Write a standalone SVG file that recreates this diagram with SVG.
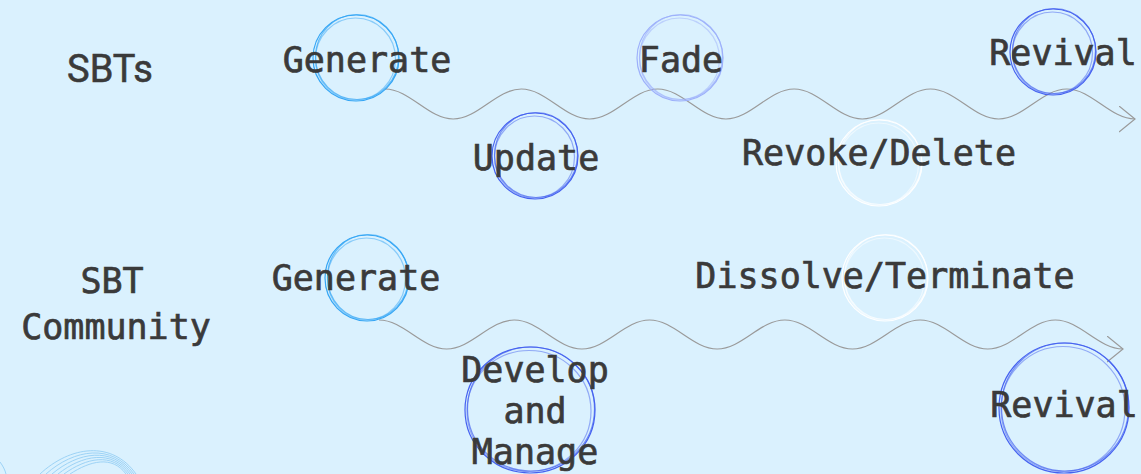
<svg xmlns="http://www.w3.org/2000/svg" xmlns:xlink="http://www.w3.org/1999/xlink" width="1141" height="474" viewBox="0 0 1141 474">
<style>
.bg{fill:#daf1fe}
.t{font-family:"DejaVu Sans Mono","Liberation Mono",monospace;font-size:35px;fill:#3a3a3a;stroke:#3a3a3a;stroke-width:0.7px;text-anchor:middle}
.ts{font-family:Roboto,"Liberation Sans",sans-serif;font-size:38px;fill:#3a3a3a;stroke:#3a3a3a;stroke-width:0.6px;text-anchor:middle}
.r{fill:none;stroke-width:1.2}
.sky{stroke:#35a6f5}
.blue{stroke:#4662f0}
.lav{stroke:#9db0fb}
.wht{stroke:#ffffff}
.wave{fill:none;stroke:#9a9a9a;stroke-width:1.2}
.deco{fill:none;stroke:#9dd3f6;stroke-width:1}
</style>
<defs>
<marker id="chev" markerUnits="userSpaceOnUse" markerWidth="20" markerHeight="30" refX="16" refY="13" orient="auto">
<path d="M0,0 L16,13 L0,26" fill="none" stroke="#9a9a9a" stroke-width="1.2"/>
</marker>
</defs>
<rect class="bg" x="0" y="0" width="1141" height="474"/>

<g id="decoration">
<path class="deco" d="M40,474 C70,446 112,440 136,474"/>
<path class="deco" d="M46,474 C74,449 112,443 134,474"/>
<path class="deco" d="M52,474 C78,452 112,446 132,474"/>
<path class="deco" d="M58,474 C82,455 112,449 130,474"/>
<path class="deco" d="M64,474 C86,458 112,452 128,474"/>
<path class="deco" d="M70,474 C90,461 112,455 126,474"/>
<path class="deco" d="M0,462 C3,466 5,470 6,474"/>
</g>

<g id="connectors">
<path class="wave" marker-end="url(#chev)" d="M385,89 C409.82,89 428.36,119 453.18,119 S496.54,89 521.36,89 S564.73,119 589.55,119 S632.91,89 657.73,89 S701.09,119 725.91,119 S769.27,89 794.09,89 S837.45,119 862.27,119 S905.63,89 930.45,89 S973.82,119 998.64,119 S1042,89 1066.82,89 S1110.18,119 1135,119"/>
<path class="wave" marker-end="url(#chev)" d="M379,320 C403.62,320 422.02,349 446.64,349 S489.65,320 514.27,320 S557.29,349 581.91,349 S624.93,320 649.55,320 S692.56,349 717.18,349 S760.2,320 784.82,320 S827.83,349 852.45,349 S895.47,320 920.09,320 S963.11,349 987.73,349 S1030.74,320 1055.36,320 S1098.38,349 1123,349"/>
</g>

<g id="label-sbts"><text class="ts" x="110" y="82">SBTs</text></g>
<g id="label-community">
<text class="t" x="112" y="293">SBT</text>
<text class="t" x="116" y="339">Community</text>
</g>

<g id="generate-1">
<circle class="r sky" cx="356" cy="58" r="43"/>
<ellipse class="r sky" cx="357" cy="57" rx="41.5" ry="42.5" opacity="0.7"/>
<ellipse class="r sky" cx="355.5" cy="59" rx="40" ry="41" opacity="0.5"/>
<text class="t" x="367" y="72">Generate</text>
</g>

<g id="update">
<circle class="r blue" cx="535" cy="156" r="43"/>
<ellipse class="r blue" cx="536" cy="155" rx="41.5" ry="42.5" opacity="0.7"/>
<ellipse class="r blue" cx="534.5" cy="157" rx="40" ry="41" opacity="0.5"/>
<text class="t" x="536" y="170">Update</text>
</g>

<g id="fade">
<circle class="r lav" cx="680" cy="58" r="43"/>
<ellipse class="r lav" cx="681" cy="57" rx="41.5" ry="42.5" opacity="0.7"/>
<ellipse class="r lav" cx="679.5" cy="59" rx="40" ry="41" opacity="0.5"/>
<text class="t" x="681" y="72">Fade</text>
</g>

<g id="revoke-delete">
<circle class="r wht" cx="879" cy="163" r="43"/>
<ellipse class="r wht" cx="880" cy="162" rx="41.5" ry="42.5" opacity="0.7"/>
<ellipse class="r wht" cx="878.5" cy="164" rx="40" ry="41" opacity="0.5"/>
<text class="t" x="879" y="165">Revoke/Delete</text>
</g>

<g id="revival-1">
<circle class="r blue" cx="1053" cy="52" r="43"/>
<ellipse class="r blue" cx="1054" cy="51" rx="41.5" ry="42.5" opacity="0.7"/>
<ellipse class="r blue" cx="1052.5" cy="53" rx="40" ry="41" opacity="0.5"/>
<text class="t" x="1063" y="65">Revival</text>
</g>

<g id="generate-2">
<ellipse class="r sky" cx="367" cy="278" rx="42" ry="43"/>
<ellipse class="r sky" cx="368" cy="277" rx="40.5" ry="42.5" opacity="0.7"/>
<ellipse class="r sky" cx="366.5" cy="279" rx="39" ry="41" opacity="0.5"/>
<text class="t" x="356" y="290">Generate</text>
</g>

<g id="develop-manage">
<ellipse class="r blue" cx="530" cy="410" rx="65" ry="63"/>
<ellipse class="r blue" cx="531" cy="409" rx="63.5" ry="62" opacity="0.7"/>
<ellipse class="r blue" cx="529" cy="411" rx="62" ry="60.5" opacity="0.5"/>
<text class="t" x="535" y="382">Develop</text>
<text class="t" x="535" y="423">and</text>
<text class="t" x="535" y="464">Manage</text>
</g>

<g id="dissolve-terminate">
<circle class="r wht" cx="885" cy="278" r="43"/>
<ellipse class="r wht" cx="886" cy="277" rx="41.5" ry="42.5" opacity="0.7"/>
<ellipse class="r wht" cx="884.5" cy="279" rx="40" ry="41" opacity="0.5"/>
<text class="t" x="885" y="288">Dissolve/Terminate</text>
</g>

<g id="revival-2">
<circle class="r blue" cx="1064" cy="408" r="65"/>
<ellipse class="r blue" cx="1065" cy="407" rx="63.5" ry="64" opacity="0.7"/>
<ellipse class="r blue" cx="1063" cy="409" rx="62" ry="62.5" opacity="0.5"/>
<text class="t" x="1064" y="417">Revival</text>
</g>
</svg>
